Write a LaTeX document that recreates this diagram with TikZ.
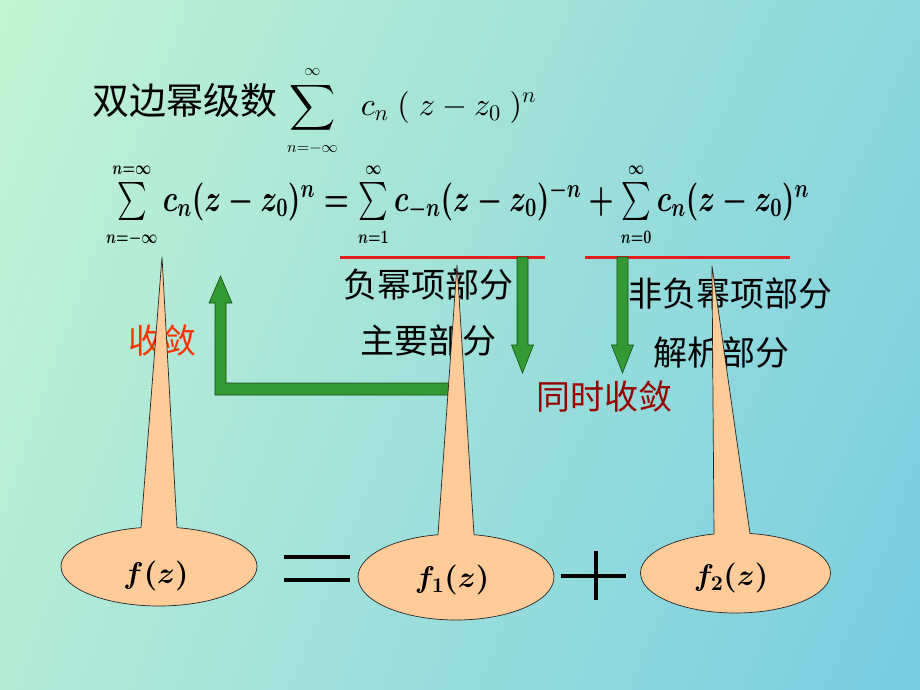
\documentclass[tikz,border=0pt]{standalone}
\usepackage{amsmath}
\usepackage{graphicx}
\usepackage[no-math]{fontspec}
\setmainfont{Liberation Serif}
\newfontfamily\cjk{Noto Sans CJK SC}
\DeclareFontShape{OML}{cmm}{m}{it}{<->cmmi10}{}
\DeclareFontShape{OML}{cmm}{b}{it}{<->cmmib10}{}
\DeclareFontShape{OMS}{cmsy}{m}{n}{<->cmsy10}{}
\DeclareFontShape{OMS}{cmsy}{b}{n}{<->cmbsy10}{}
\DeclareFontShape{OMX}{cmex}{m}{n}{<->cmex10}{}
\DeclareFontShape{OT1}{cmr}{m}{n}{<->cmr10}{}
\DeclareFontShape{OT1}{cmr}{bx}{n}{<->cmbx10}{}
\usetikzlibrary{shapes.geometric,shadings}
\definecolor{bgTL}{RGB}{195,243,212}
\definecolor{bgTR}{RGB}{140,215,220}
\definecolor{bgBL}{RGB}{180,235,215}
\definecolor{bgBR}{RGB}{120,205,225}
\definecolor{peach}{RGB}{255,204,153}
\definecolor{arrowgreen}{RGB}{51,153,51}
\definecolor{arrowdark}{RGB}{20,80,20}
\definecolor{linered}{RGB}{230,30,30}
\definecolor{orangered}{RGB}{255,51,0}
\definecolor{darkred}{RGB}{153,0,0}
\begin{document}
\begin{tikzpicture}[x=1pt,y=-1pt,
  cnlabel/.style={font=\cjk\fontsize{34}{40}\selectfont, anchor=base, inner sep=0pt},
  garrow/.style={fill=arrowgreen, draw=arrowdark, line width=0.6pt},
  ellbox/.style={ellipse, fill=peach, draw=black!85, line width=0.7pt, inner sep=0pt},
  pointer/.style={draw=black!85, line width=0.7pt},
  redline/.style={draw=linered, line width=3pt},
  bar/.style={draw=black, line width=3.5pt},
  fz/.style={inner sep=0pt, font=\fontsize{30}{36}\selectfont\boldmath}]
\useasboundingbox (0,0) rectangle (920,690);
\shade[upper left=bgTL, upper right=bgTR, lower left=bgBL, lower right=bgBR] (0,0) rectangle (920,690);

% line 1
\node[anchor=base west, inner sep=0pt, font=\cjk\fontsize{37}{44}\selectfont] (title) at (92,114) {双边幂级数};
\node[anchor=base west, inner sep=0pt, font=\fontsize{32}{38}\selectfont] (s1) at (287,116) {$\displaystyle\sum\limits_{\scriptscriptstyle n=-\infty}^{\scriptscriptstyle\infty}\mkern10mu c_n\mkern5mu(\mkern5mu z-z_0\mkern5mu)^n$};

% line 2
\node[anchor=base west, inner sep=0pt, font=\fontsize{38}{44}\selectfont\boldmath] (s2) at (106,211) {\scalebox{0.74}[1]{$\sum\limits_{\scriptscriptstyle n=-\infty}^{\scriptscriptstyle n=\infty} c_n(z-z_0)^n = \sum\limits_{\scriptscriptstyle n=1}^{\scriptscriptstyle\infty} c_{-n}(z-z_0)^{-n}+\sum\limits_{\scriptscriptstyle n=0}^{\scriptscriptstyle\infty} c_n(z-z_0)^n$}};

% red underlines
\coordinate (r1a) at (340,257); \coordinate (r1b) at (545,257);
\coordinate (r2a) at (585,257); \coordinate (r2b) at (790,257);
\draw[redline] (r1a) -- (r1b);
\draw[redline] (r2a) -- (r2b);

% labels
\node[cnlabel] (neg) at (428,297) {负幂项部分};
\node[cnlabel] (main) at (428,353) {主要部分};
\node[cnlabel, text=orangered] (conv) at (162,353) {收敛};
\node[cnlabel] (nonneg) at (730,306) {非负幂项部分};
\node[cnlabel] (anal) at (721,365) {解析部分};
\node[cnlabel, text=darkred] (both) at (604,409) {同时收敛};

% green arrows
\draw[garrow] (517,257) -- (528,257) -- (528,345) -- (533.5,345) -- (522.5,373) -- (511.5,345) -- (517,345) -- cycle;
\draw[garrow] (617,257) -- (628,257) -- (628,345) -- (633.5,345) -- (622.5,373) -- (611.5,345) -- (617,345) -- cycle;
\draw[garrow] (452,383) -- (226,383) -- (226,303) -- (232,303) -- (220.5,276) -- (209,303) -- (215,303) -- (215,395) -- (452,395) -- cycle;

% callout 1
\node[ellbox, minimum width=196pt, minimum height=79pt] (e1) at (159,566.5) {};
\coordinate (t1) at (162,257);
\coordinate (b1l) at (141,527.7); \coordinate (b1r) at (177,527.7);
\fill[peach] ([yshift=-2pt]b1l) -- (t1) -- ([yshift=-2pt]b1r) -- cycle;
\draw[pointer] (b1l) -- (t1) -- (b1r);
\node[fz] (f) at (156,576) {$f(z)$};

% callout 2
\node[ellbox, minimum width=196pt, minimum height=86pt] (e2) at (456,577) {};
\coordinate (t2) at (457,265);
\coordinate (b2l) at (438,534.7); \coordinate (b2r) at (474,534.7);
\fill[peach] ([yshift=-2pt]b2l) -- (t2) -- ([yshift=-2pt]b2r) -- cycle;
\draw[pointer] (b2l) -- (t2) -- (b2r);
\node[fz] (f1) at (452,580) {$f_{\mathbf 1}(z)$};

% callout 3
\node[ellbox, minimum width=190pt, minimum height=80pt] (e3) at (735.5,573) {};
\coordinate (t3) at (712,266);
\coordinate (b3l) at (714,534); \coordinate (b3r) at (750,533.5);
\fill[peach] ([yshift=-2pt]b3l) -- (t3) -- ([yshift=-2pt]b3r) -- cycle;
\draw[pointer] (b3l) -- (t3) -- (b3r);
\node[fz] (f2) at (731,578) {$f_{\mathbf 2}(z)$};

% = and +
\coordinate (eqa) at (284,557); \coordinate (eqb) at (350,557);
\coordinate (eqc) at (284,580); \coordinate (eqd) at (350,580);
\draw[bar] (eqa) -- (eqb);
\draw[bar] (eqc) -- (eqd);
\coordinate (pla) at (561,576); \coordinate (plb) at (626,576);
\coordinate (plc) at (596,551); \coordinate (pld) at (596,600);
\draw[bar] (pla) -- (plb);
\draw[bar] (plc) -- (pld);
\end{tikzpicture}
\end{document}
